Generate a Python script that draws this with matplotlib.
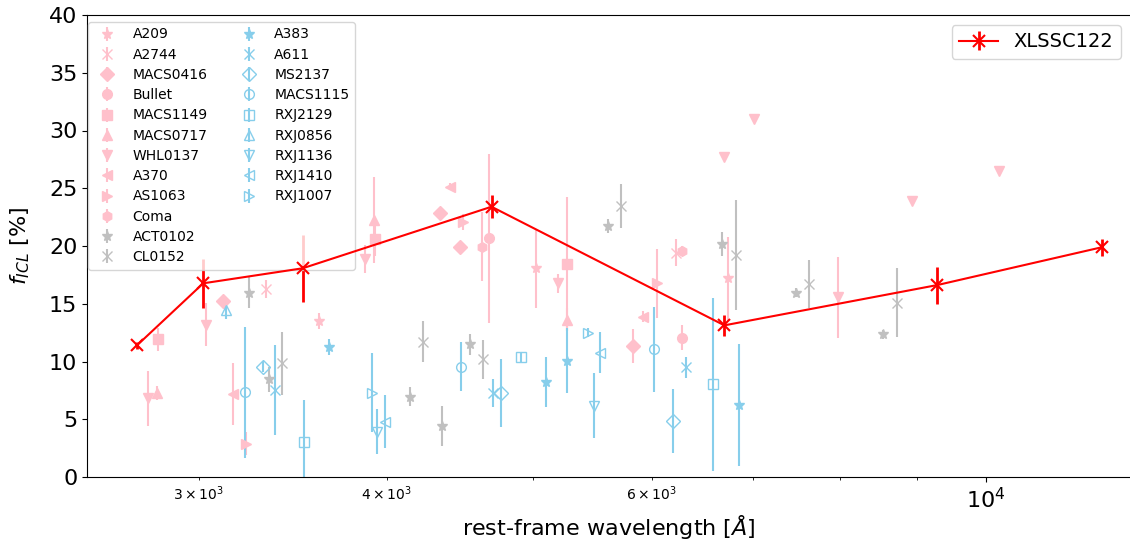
import matplotlib
matplotlib.use("Agg")
import matplotlib.pyplot as plt
from matplotlib.lines import Line2D

# ---------------- data (rest-frame wavelength [Å], f_ICL [%], error [%]) ----------------
# pink clusters
A209_wl = [3607, 5023, 6744]
A209_f = [13.5, 18.07, 17.2]
A209_e = [0.7, 3.4, 3.6]

A2744_wl = [3326, 6224]
A2744_f = [16.28, 19.42]
A2744_e = [0.8, 1.15]

MACS0416_wl = [3116, 4339, 4474, 5827]
MACS0416_f = [15.24, 22.83, 19.94, 11.34]
MACS0416_e = [0.3, 0.3, 0.3, 1.5]

Bullet_wl = [4677, 6279]
Bullet_f = [20.66, 12.06]
Bullet_e = [7.3, 1.1]

MACS1149_wl = [2818, 3930, 5267]
MACS1149_f = [11.92, 20.6, 18.44]
MACS1149_e = [1.0, 1.5, 5.8]

MACS0717_wl = [2814, 3924, 5267]
MACS0717_f = [7.25, 22.25, 13.6]
MACS0717_e = [0.6, 3.75, 1.0]

WHL0137_wl = [2778, 3034, 3870, 5200, 6703, 7018, 7980, 8932, 10207]
WHL0137_f = [6.8, 13.2, 18.85, 16.77, 27.68, 30.97, 15.56, 23.93, 26.52]
WHL0137_e = [2.4, 1.9, 1.2, 0.8, 0.0, 0.0, 3.5, 0.0, 0.0]

A370_wl = [3164, 4406, 5922]
A370_f = [7.16, 25.14, 13.88]
A370_e = [2.7, 0.3, 0.5]

AS1063_wl = [3226, 4492, 6043]
AS1063_f = [2.9, 22.1, 16.77]
AS1063_e = [1.0, 0.7, 3.0]

Coma_wl = [4625, 6279]
Coma_f = [19.94, 19.6]
Coma_e = [3.0, 0.4]

# gray clusters
ACT0102_wl = [3241, 3343, 4145, 4350, 4543, 5608, 6682, 7478, 8548]
ACT0102_f = [15.96, 8.46, 6.95, 4.42, 11.5, 21.73, 20.17, 15.96, 12.35]
ACT0102_e = [1.35, 1.1, 0.8, 1.7, 0.9, 0.6, 1.05, 0.4, 0.4]

CL0152_wl = [3410, 4226, 4636, 5722, 6821, 7632, 8726]
CL0152_f = [9.84, 11.72, 10.19, 23.46, 19.22, 16.7, 15.1]
CL0152_e = [2.75, 1.75, 1.7, 1.9, 4.76, 2.1, 2.96]

# blue clusters (open markers)
A383_wl = [3664, 5104, 5267, 6855]
A383_f = [11.28, 8.25, 10.07, 6.23]
A383_e = [0.7, 2.15, 2.8, 5.3]

A611_wl = [3373, 4703, 6318]
A611_f = [7.53, 7.25, 9.5]
A611_e = [3.9, 1.2, 0.9]

MS2137_wl = [3312, 4764, 6198]
MS2137_f = [9.55, 7.25, 4.88]
MS2137_e = [0.5, 2.95, 2.77]

MACS1115_wl = [3218, 4481, 6018]
MACS1115_f = [7.33, 9.55, 11.05]
MACS1115_e = [5.7, 2.1, 3.7]

RXJ2129_wl = [3526, 4909, 6591]
RXJ2129_f = [3.06, 10.36, 8.03]
RXJ2129_e = [3.6, 0.4, 7.5]

RXJ0856_wl = [3129]
RXJ0856_f = [14.46]
RXJ0856_e = [0.8]

RXJ1136_wl = [3943, 5492]
RXJ1136_f = [3.92, 6.17]
RXJ1136_e = [1.95, 2.8]

RXJ1410_wl = [3990, 5542]
RXJ1410_f = [4.79, 10.76]
RXJ1410_e = [2.3, 1.76]

RXJ1007_wl = [3913, 5444]
RXJ1007_f = [7.3, 12.5]
RXJ1007_e = [3.4, 0.4]

# XLSSC122
XLSSC122_wl = [2730, 3021, 3517, 4695, 6703, 9284, 11937]
XLSSC122_f = [11.4, 16.77, 18.07, 23.4, 13.13, 16.62, 19.89]
XLSSC122_e = [0.3, 2.1, 2.9, 1.0, 0.9, 1.6, 0.75]

PINK = "pink"
GRAY = "silver"
BLUE = "skyblue"

clusters = [
    ("A209", A209_wl, A209_f, A209_e, "*", PINK, True),
    ("A2744", A2744_wl, A2744_f, A2744_e, "x", PINK, True),
    ("MACS0416", MACS0416_wl, MACS0416_f, MACS0416_e, "D", PINK, True),
    ("Bullet", Bullet_wl, Bullet_f, Bullet_e, "o", PINK, True),
    ("MACS1149", MACS1149_wl, MACS1149_f, MACS1149_e, "s", PINK, True),
    ("MACS0717", MACS0717_wl, MACS0717_f, MACS0717_e, "^", PINK, True),
    ("WHL0137", WHL0137_wl, WHL0137_f, WHL0137_e, "v", PINK, True),
    ("A370", A370_wl, A370_f, A370_e, "<", PINK, True),
    ("AS1063", AS1063_wl, AS1063_f, AS1063_e, ">", PINK, True),
    ("Coma", Coma_wl, Coma_f, Coma_e, "h", PINK, True),
    ("ACT0102", ACT0102_wl, ACT0102_f, ACT0102_e, "*", GRAY, True),
    ("CL0152", CL0152_wl, CL0152_f, CL0152_e, "x", GRAY, True),
    ("A383", A383_wl, A383_f, A383_e, "*", BLUE, True),
    ("A611", A611_wl, A611_f, A611_e, "x", BLUE, True),
    ("MS2137", MS2137_wl, MS2137_f, MS2137_e, "D", BLUE, False),
    ("MACS1115", MACS1115_wl, MACS1115_f, MACS1115_e, "o", BLUE, False),
    ("RXJ2129", RXJ2129_wl, RXJ2129_f, RXJ2129_e, "s", BLUE, False),
    ("RXJ0856", RXJ0856_wl, RXJ0856_f, RXJ0856_e, "^", BLUE, False),
    ("RXJ1136", RXJ1136_wl, RXJ1136_f, RXJ1136_e, "v", BLUE, False),
    ("RXJ1410", RXJ1410_wl, RXJ1410_f, RXJ1410_e, "<", BLUE, False),
    ("RXJ1007", RXJ1007_wl, RXJ1007_f, RXJ1007_e, ">", BLUE, False),
]

fig = plt.figure(figsize=(11.3, 5.44), dpi=100)
ax = fig.add_axes([87 / 1130, 67 / 544, (1131 - 87) / 1130, 462 / 544])
ax.set_xscale("log")

handles = []
labels = []
for name, wl, f, e, mk, col, filled in clusters:
    h = ax.errorbar(wl, f, yerr=e, fmt=mk, color=col, ms=7, lw=1.5,
                    mfc=col if filled else "none", mec=col, capsize=0,
                    label=name)
    handles.append(h)
    labels.append(name)

# pad second column so that the legend reads 12 + 9 rows
for _ in range(3):
    handles.append(Line2D([], [], linestyle="none", marker=None))
    labels.append("")

red = ax.errorbar(XLSSC122_wl, XLSSC122_f, yerr=XLSSC122_e, fmt="-x", color="red",
                  ms=8, mew=1.5, lw=1.5, elinewidth=2, capsize=0, zorder=5,
                  label="XLSSC122")

ax.set_xlim(2529, 12484)
ax.set_ylim(0, 40)
ax.set_yticks(range(0, 41, 5))
ax.tick_params(axis="both", which="major", labelsize=16)
ax.set_xlabel(r"rest-frame wavelength [$\AA$]", fontsize=16, labelpad=1)
ax.set_ylabel(r"$f_{ICL}$ [%]", fontsize=16, labelpad=12)

leg1 = ax.legend(handles, labels, ncol=2, fontsize=10, loc="upper left",
                 bbox_to_anchor=(0.001, 0.985), borderaxespad=0,
                 labelspacing=0.45)
ax.add_artist(leg1)
ax.legend([red], ["XLSSC122"], fontsize=14, loc="upper right")

fig.savefig("out.png", dpi=100)
